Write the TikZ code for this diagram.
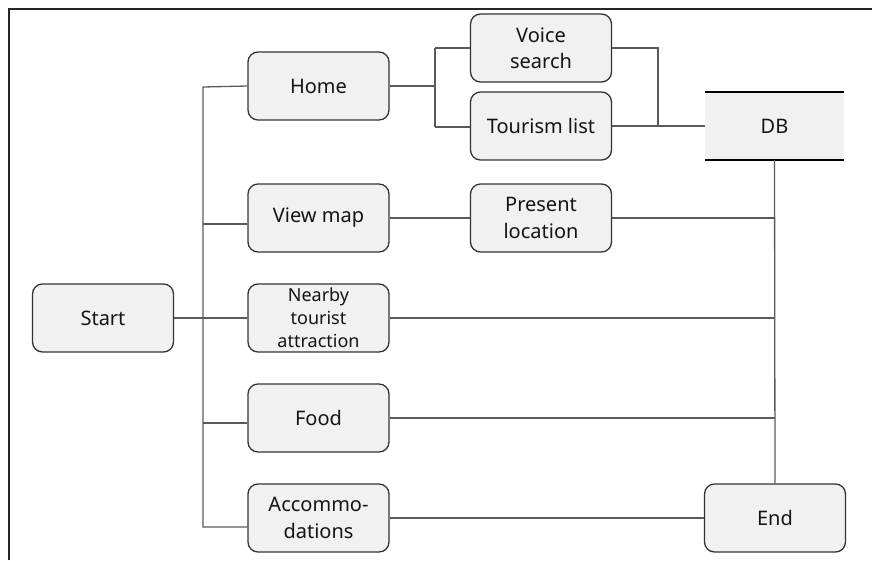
\documentclass[tikz,border=0pt]{standalone}
\usepackage{fontspec}
\setmainfont{Noto Sans}
\definecolor{boxfill}{HTML}{F1F1F1}
\definecolor{boxline}{HTML}{333333}
\definecolor{conn}{HTML}{5A5A5A}
\definecolor{txt}{HTML}{141414}
\tikzset{
  box/.style={draw=boxline, line width=1.3pt, fill=boxfill, rounded corners=10pt,
    minimum width=141pt, minimum height=68pt, inner sep=0pt, align=center,
    text=txt, font=\fontsize{20}{26.5}\selectfont},
  smalltext/.style={font=\fontsize{18}{23}\selectfont},
  dbbox/.style={fill=boxfill, rounded corners=4pt, minimum width=139pt,
    minimum height=68pt, inner sep=0pt, text=txt, font=\fontsize{20}{26}\selectfont},
  conline/.style={draw=conn, line width=1.3pt},
  dbedge/.style={draw=black, line width=2.4pt},
  frameline/.style={draw=black!85, line width=2.2pt}
}
\begin{document}
\begin{tikzpicture}[x=1pt,y=-1pt]
\useasboundingbox (0,0) rectangle (872,560);
% outer frame (top and left edges)
\draw[frameline] (9,560) -- (9,9) -- (872,9);

% nodes
\node[box] (start) at (103,318) {Start};
\node[box] (home) at (318.5,86) {Home};
\node[box] (voice) at (541,48) {Voice\\search};
\node[box] (tour) at (541,126) {Tourism list};
\node[dbbox] (db) at (774.5,126) {DB};
\node[box] (viewmap) at (318.5,218) {View map};
\node[box] (present) at (541,218) {Present\\location};
\node[box,smalltext] (nearby) at (318.5,318) {Nearby\\tourist\\attraction};
\node[box] (food) at (318.5,418) {Food};
\node[box] (acc) at (318.5,518) {Accommo-\\dations};
\node[box] (end) at (775,518) {End};

% DB top and bottom lines
\draw[dbedge] (db.north west) -- (db.north east);
\draw[dbedge] (db.south west) -- (db.south east);

% trunk coordinates
\coordinate (tktop) at (203,87);
\coordinate (tkbot) at (203,527);
\coordinate (hb) at (435,86);
\coordinate (hbtop) at (435,48);
\coordinate (hbbot) at (435,127);
\coordinate (vm) at (658,48);
\coordinate (vmb) at (658,126);

% connectors
\draw[conline] (start.east) -- (nearby.west);
\draw[conline] (home.west) -- (tktop) -- (tkbot) -- ([yshift=-9pt]acc.west);
\draw[conline] ([yshift=-6pt]viewmap.west) -- ([yshift=-6pt]viewmap.west -| tktop);
\draw[conline] ([yshift=-5pt]food.west) -- ([yshift=-5pt]food.west -| tktop);

\draw[conline] (home.east) -- (hb);
\draw[conline] (hbtop) -- (hbbot);
\draw[conline] (hbtop) -- (voice.west);
\draw[conline] (hbbot) -- ([yshift=-1pt]tour.west);
\draw[conline] (voice.east) -- (vm) -- (vmb);
\draw[conline] (tour.east) -- (db.west);

\draw[conline] (viewmap.east) -- (present.west);
\draw[conline] (db.south) -- (end.north);
\draw[conline] (present.east) -- (present.east -| db.south);
\draw[conline] (nearby.east) -- (nearby.east -| db.south);
\draw[conline] (food.east) -- (food.east -| db.south);
\draw[conline] (acc.east) -- (end.west);
\end{tikzpicture}
\end{document}
